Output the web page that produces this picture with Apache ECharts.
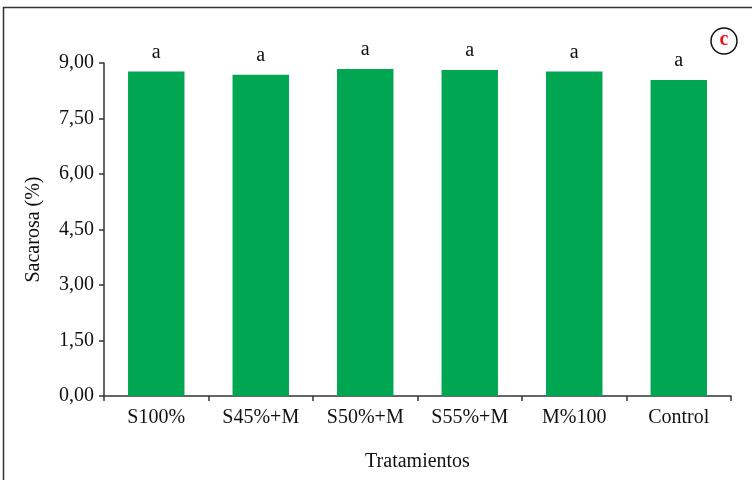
<!DOCTYPE html>
<html>
<head>
<meta charset="utf-8">
<script src="https://cdn.jsdelivr.net/npm/echarts@6/dist/echarts.min.js"></script>
<style>
html,body{margin:0;padding:0;background:#fff;}
#chart{width:752px;height:480px;}
</style>
</head>
<body>
<div id="chart"></div>
<script>
// tratamientos y valores de sacarosa (%)
var categories = ['S100%', 'S45%+M', 'S50%+M', 'S55%+M', 'M%100', 'Control'];
var sacarosa = [8.77, 8.68, 8.84, 8.81, 8.77, 8.54];
var letras = ['a', 'a', 'a', 'a', 'a', 'a'];
var yTicks = [0, 1.5, 3, 4.5, 6, 7.5, 9];

var fuente = 'Liberation Serif';
var myChart = echarts.init(document.getElementById('chart'));

var seriesData = [];
for (var i = 0; i < sacarosa.length; i++) {
	seriesData.push({value: sacarosa[i], letra: letras[i]});
}

var option = {
	backgroundColor: '#fff',
	animation: false,
	grid: {left: 104, right: 21, top: 63, bottom: 84},
	xAxis: {
		type: 'category',
		data: categories,
		name: 'Tratamientos',
		nameLocation: 'middle',
		nameGap: 56,
		nameTextStyle: {fontFamily: fuente, fontSize: 20, color: '#111'},
		axisLine: {lineStyle: {color: '#333', width: 1.5}},
		axisTick: {show: true, length: 5, lineStyle: {color: '#333', width: 1.5}},
		axisLabel: {fontFamily: fuente, fontSize: 20, color: '#111', margin: 12}
	},
	yAxis: {
		type: 'value',
		min: yTicks[0],
		max: yTicks[yTicks.length - 1],
		interval: 1.5,
		name: 'Sacarosa (%)',
		nameLocation: 'middle',
		nameGap: 60,
		nameTextStyle: {fontFamily: fuente, fontSize: 20, color: '#111'},
		splitLine: {show: false},
		axisLine: {show: true, lineStyle: {color: '#333', width: 1.5}},
		axisTick: {show: true, length: 5, lineStyle: {color: '#333', width: 1.5}},
		axisLabel: {
			fontFamily: fuente, fontSize: 20, color: '#111', margin: 10,
			formatter: function (v) { return v.toFixed(2).replace('.', ','); }
		}
	},
	series: [{
		type: 'bar',
		data: seriesData,
		barCategoryGap: '46%',
		itemStyle: {color: '#00a651'},
		label: {
			show: true,
			position: 'top',
			distance: 9,
			fontFamily: fuente,
			fontSize: 20,
			color: '#111',
			formatter: function (p) { return p.data.letra; }
		}
	}],
	graphic: [
		{
			type: 'rect',
			shape: {x: 3.5, y: 7.5, width: 800, height: 520},
			style: {fill: 'none', stroke: '#333', lineWidth: 1.5},
			silent: true
		},
		{
			type: 'circle',
			shape: {cx: 724, cy: 41, r: 13},
			style: {fill: '#fff', stroke: '#111', lineWidth: 1.5}
		},
		{
			type: 'text',
			x: 724, y: 40,
			style: {text: 'c', fill: '#e8141c', font: 'bold 20px "Liberation Serif"', align: 'center', verticalAlign: 'middle'}
		}
	]
};
myChart.setOption(option);
</script>
</body>
</html>
